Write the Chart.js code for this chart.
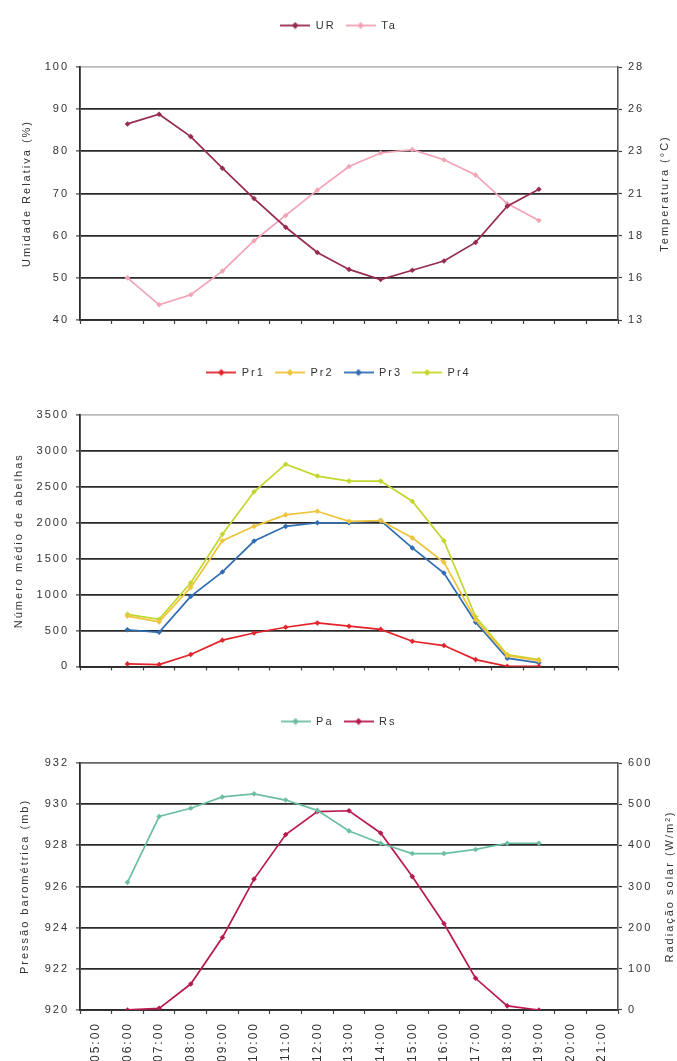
<!DOCTYPE html>
<html><head><meta charset="utf-8">
<script src="https://cdn.jsdelivr.net/npm/chart.js@4.4.1/dist/chart.umd.min.js"></script>
<style>
html,body{margin:0;padding:0;background:#fff;overflow:hidden;width:677px;height:1061px;}
canvas{position:absolute;left:0;}
</style></head><body>
<canvas id="c1" width="677" height="335" style="top:0px"></canvas>
<canvas id="c2" width="677" height="345" style="top:335px"></canvas>
<canvas id="c3" width="677" height="400" style="top:680px"></canvas>
<script>
// ---- data ----
const hours = ['05:00','06:00','07:00','08:00','09:00','10:00','11:00','12:00','13:00','14:00','15:00','16:00','17:00','18:00','19:00','20:00','21:00'];
const urValues = [null,86.5,88.8,83.5,76,68.8,62,56,52,49.6,51.8,54,58.4,67,71,null,null];
const taValues = [null,15.5,13.9,14.5,15.9,17.7,19.2,20.7,22.1,22.9,23.1,22.5,21.6,19.9,18.9,null,null];
const taTickLabels = ['13','16','18','21','23','26','28'];
const pr1Values = [null,35,25,165,365,465,545,605,560,515,350,290,95,0,0,null,null];
const pr2Values = [null,700,620,1100,1750,1950,2110,2160,2020,2030,1790,1450,650,150,80,null,null];
const pr3Values = [null,510,475,975,1315,1745,1950,2000,2000,2030,1650,1300,615,115,50,null,null];
const pr4Values = [null,725,655,1165,1840,2430,2815,2650,2580,2580,2300,1750,690,165,95,null,null];
const paValues = [null,926.2,929.4,929.8,930.35,930.5,930.2,929.7,928.7,928.1,927.6,927.6,927.8,928.1,928.1,null,null];
const rsValues = [null,0,4,63,176,318,426,482,484,430,324,210,77,10,0];

const FONT = {family:'"Liberation Sans", Arial, sans-serif', size:11};
const XFONT = {family:'"Liberation Sans", Arial, sans-serif', size:12};
const TXT = '#333';
const LS = '2px';
const PLOT_LEFT = 80, RIGHT_W = 59;
const NUMFMT = {useGrouping:false};

const spacingPlugin = {
  id:'spacing',
  beforeUpdate(chart){ chart.ctx.letterSpacing = LS; },
  beforeDraw(chart){ chart.ctx.letterSpacing = LS; }
};
const legendSpace = {
  id:'legendSpace',
  beforeInit(chart, args, opts){
    if(!chart.legend) return;
    const fit = chart.legend.fit;
    chart.legend.fit = function(){ fit.call(this); this.height += (opts.extra||0); };
  }
};
const rightTitle = {
  id:'rightTitle',
  afterDraw(chart, args, opts){
    if(!opts.text) return;
    const ctx = chart.ctx, a = chart.chartArea;
    ctx.save();
    ctx.letterSpacing = LS;
    ctx.font = FONT.size + 'px ' + FONT.family;
    ctx.fillStyle = TXT;
    ctx.translate(opts.x, (a.top + a.bottom)/2);
    ctx.rotate(-Math.PI/2);
    ctx.textAlign = 'center'; ctx.textBaseline = 'middle';
    ctx.fillText(opts.text, 0, 0);
    ctx.restore();
  }
};

function legendImg(color){
  const c = document.createElement('canvas'); c.width = 30; c.height = 8;
  const g = c.getContext('2d');
  g.strokeStyle = color; g.lineWidth = 1.8;
  g.beginPath(); g.moveTo(0,4); g.lineTo(30,4); g.stroke();
  g.fillStyle = color;
  g.beginPath(); g.moveTo(15,0.5); g.lineTo(18.5,4); g.lineTo(15,7.5); g.lineTo(11.5,4); g.closePath(); g.fill();
  return c;
}

function ds(label, data, color, axis){
  return {label, data, borderColor:color, backgroundColor:color, borderWidth:1.7,
    pointStyle:'rectRot', pointRadius:2.8, pointBorderWidth:0, pointBackgroundColor:color,
    tension:0, yAxisID: axis || 'y', spanGaps:false};
}

function xScale(showLabels){
  return {type:'category', offset:true,
    grid:{offset:true, drawOnChartArea:false, drawTicks:true, tickLength:4, tickColor:'#444', tickWidth:1.2},
    border:{display:true, color:'#2a2a2a', width:1.8},
    ticks:{display:showLabels, autoSkip:false, minRotation:90, maxRotation:90, padding:8, color:TXT, font:XFONT}};
}

function leftScale(min, max, step, title, titlePad, topColor){
  return {type:'linear', position:'left', min, max,
    ticks:{stepSize:step, color:TXT, font:FONT, padding:7, format:NUMFMT},
    grid:{color:(c)=> (c.tick && c.tick.value===max) ? topColor : '#2a2a2a', lineWidth:1.8, tickLength:4, tickColor:'#444', tickWidth:1.2},
    border:{display:true, color:'#2a2a2a', width:1.8},
    title:{display:true, text:title, color:TXT, font:FONT, padding:{top:titlePad, bottom:0}},
    afterFit(s){ s.width = PLOT_LEFT; }};
}

function rightScale(min, max, step, labels){
  const sc = {type:'linear', position:'right', min, max,
    grid:{drawOnChartArea:false, tickLength:4, tickColor:'#444', tickWidth:1.2, drawTicks: !!labels},
    border:{display:true, color: labels ? '#555' : '#aaa', width: labels ? 1.6 : 1},
    ticks:{display: !!labels, stepSize:step, color:TXT, font:FONT, padding:6, format:NUMFMT},
    afterFit(s){ s.width = RIGHT_W; }};
  if(labels && labels !== true) sc.ticks.callback = (v,i)=> labels[i];
  return sc;
}

function legendOpts(){
  return {display:true, position:'top',
    labels:{usePointStyle:true, pointStyleWidth:30, boxHeight:8, padding:10, color:TXT, font:FONT,
      generateLabels(chart){
        return chart.data.datasets.map((d,i)=>({text:d.label, pointStyle:legendImg(d.borderColor),
          fillStyle:d.borderColor, strokeStyle:d.borderColor, lineWidth:0, hidden:false, datasetIndex:i, fontColor:TXT}));
      }}};
}

function baseOptions(pad, extra, rt){
  return {responsive:false, animation:false, devicePixelRatio:1,
    layout:{padding:pad},
    plugins:{legend:legendOpts(), tooltip:{enabled:false}, legendSpace:{extra}, rightTitle:rt||{}},
    scales:{}};
}

// ---- Chart 1 ----
const o1 = baseOptions({top:10,left:0,right:0,bottom:11}, 26, {text:'Temperatura (°C)', x:665});
o1.scales.x = xScale(false);
o1.scales.y = leftScale(40,100,10,'Umidade Relativa (%)',20,'#bbb');
o1.scales.y2 = rightScale(13,28,2.5,taTickLabels);
new Chart(document.getElementById('c1'), {type:'line',
  data:{labels:hours, datasets:[ds('UR',urValues,'#962c52'), ds('Ta',taValues,'#f2a3b6','y2')]},
  options:o1, plugins:[spacingPlugin, legendSpace, rightTitle]});

// ---- Chart 2 ----
const o2 = baseOptions({top:22,left:0,right:0,bottom:9}, 27);
o2.scales.x = xScale(false);
o2.scales.y = leftScale(0,3500,500,'Número médio de abelhas',12,'#bbb');
o2.scales.y2 = rightScale(0,3500,500,null);
new Chart(document.getElementById('c2'), {type:'line',
  data:{labels:hours, datasets:[ds('Pr1',pr1Values,'#e3242b'), ds('Pr2',pr2Values,'#eec43a'), ds('Pr3',pr3Values,'#2f6db3'), ds('Pr4',pr4Values,'#c4d62c')]},
  options:o2, plugins:[spacingPlugin, legendSpace, rightTitle]});

// ---- Chart 3 ----
const o3 = baseOptions({top:26,left:0,right:0,bottom:10}, 26, {text:'Radiação solar (W/m²)', x:670});
o3.scales.x = xScale(true);
o3.scales.y = leftScale(920,932,2,'Pressão barométrica (mb)',18,'#666');
o3.scales.y2 = rightScale(0,600,100,true);
new Chart(document.getElementById('c3'), {type:'line',
  data:{labels:hours, datasets:[ds('Pa',paValues,'#6cbfa4'), ds('Rs',rsValues,'#b81a50','y2')]},
  options:o3, plugins:[spacingPlugin, legendSpace, rightTitle]});
</script>
</body></html>
